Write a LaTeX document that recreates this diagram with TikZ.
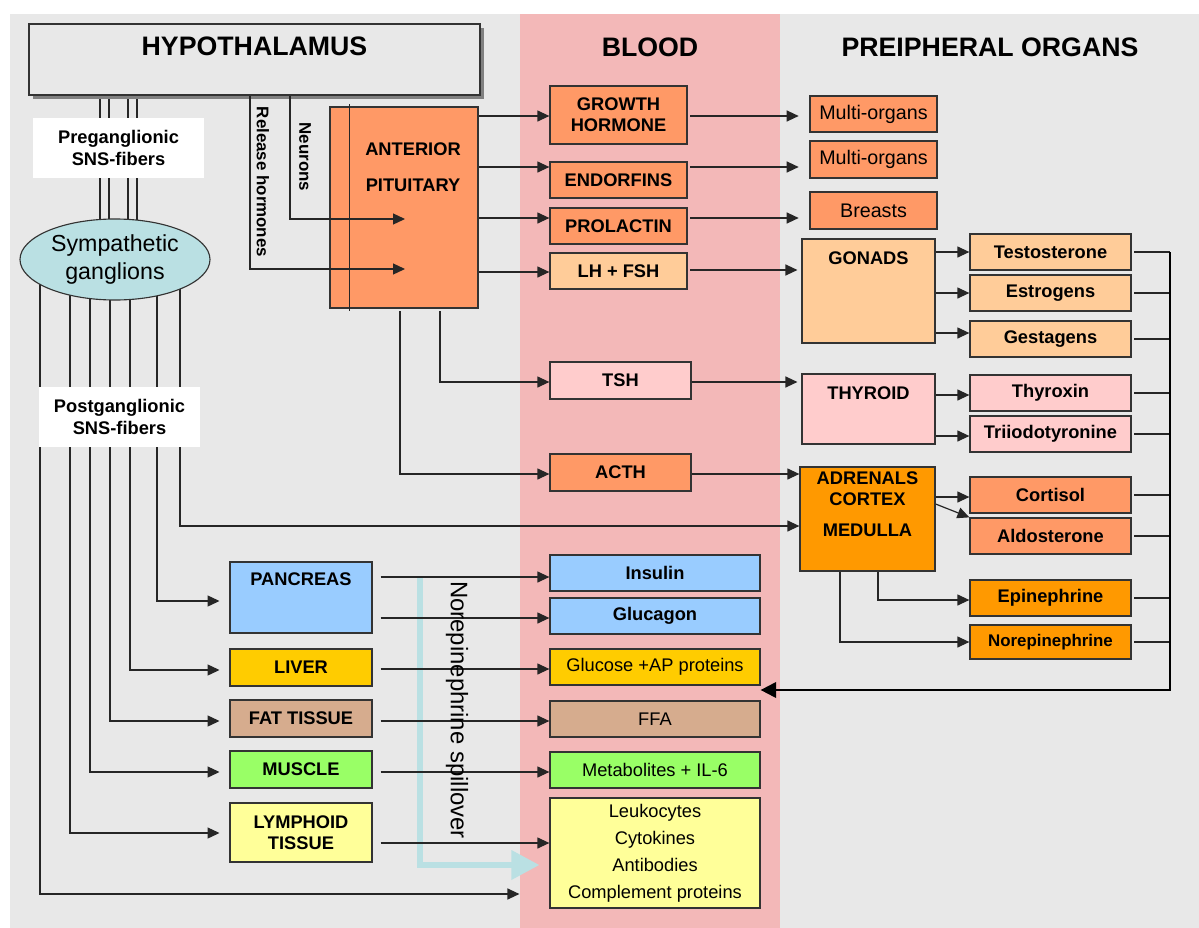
\documentclass[tikz,border=0pt]{standalone}
\usepackage{fontspec}
\setmainfont{Liberation Sans}
\usepackage{xcolor}
\usetikzlibrary{arrows.meta, calc, shapes.geometric, shadows}

\definecolor{bggray}{HTML}{E8E8E8}
\definecolor{bloodpink}{HTML}{F3B8B8}
\definecolor{salmon}{HTML}{FF9966}
\definecolor{peach}{HTML}{FFCC99}
\definecolor{rosy}{HTML}{FFCCCC}
\definecolor{amber}{HTML}{FF9900}
\definecolor{pancblue}{HTML}{99CCFF}
\definecolor{livergold}{HTML}{FFCC00}
\definecolor{fatbrown}{HTML}{D6AC8E}
\definecolor{muscgreen}{HTML}{99FF66}
\definecolor{paleyellow}{HTML}{FFFF99}
\definecolor{ganglcyan}{HTML}{BAE0E3}

\pgfdeclarelayer{bg}
\pgfdeclarelayer{wires}
\pgfsetlayers{bg,wires,main}

\begin{document}
\begin{tikzpicture}[x=0.025cm, y=-0.025cm,
  wh/.style 2 args={minimum width={#1*0.025cm}, minimum height={#2*0.025cm}},
  box/.style={rectangle, draw=black!80, line width=0.9pt, inner sep=0pt, align=center,
    font=\bfseries\fontsize{13}{15}\selectfont},
  plain/.style={font=\fontsize{13}{19.2}\selectfont},
  organ/.style={font=\fontsize{14}{16}\selectfont},
  toptxt/.style={anchor=north, inner sep=0pt, align=center, font=\bfseries\fontsize{13}{15}\selectfont},
  fiber/.style={rectangle, fill=white, inner sep=0pt, align=center, font=\bfseries\fontsize{13}{15}\selectfont},
  head/.style={font=\bfseries\fontsize{19}{23}\selectfont},
  vlab/.style={rotate=-90, inner sep=0pt, font=\bfseries\fontsize{12}{14}\selectfont},
  wire/.style={line width=0.85pt, draw=black!85},
  arr/.style={wire, -{Triangle[length=8.5pt, width=7.8pt]}},
  feedback/.style={line width=1.6pt, -{Triangle[length=11pt, width=11pt]}},
  spill/.style={line width=4.4pt, draw=ganglcyan, -{Triangle[length=20pt, width=20pt]}}
]
  \useasboundingbox (0,0) rectangle (1199,928);
  \begin{pgfonlayer}{bg}
    \fill[bggray] (10,14) rectangle (1199,928);
    \fill[bloodpink] (520,14) rectangle (780,928);
  \end{pgfonlayer}

  \node[head] (blood) at (650,47) {BLOOD};
  \node[head] (periph) at (990,47) {PREIPHERAL ORGANS};

  % Hypothalamus and ganglia
  \node[box, fill=bggray, wh={451}{71},
    drop shadow={opacity=1, fill=black!50, shadow xshift=0.1cm, shadow yshift=-0.1cm},
    label={[toptxt, font=\bfseries\fontsize{19}{23}\selectfont, yshift=-13*0.025cm]north:HYPOTHALAMUS}]
    (hyp) at (254.5,59.5) {};
  \node[ellipse, draw=black!80, line width=0.8pt, fill=ganglcyan, wh={190}{81}, inner sep=0pt,
    align=center, font=\fontsize{16.5}{20}\selectfont] (ggl) at (115,259.5) {Sympathetic\\ganglions};
  \node[fiber, wh={171}{60}] (pre) at (118.5,148) {Preganglionic\\SNS-fibers};
  \node[fiber, wh={161}{60}] (post) at (119.5,417) {Postganglionic\\SNS-fibers};

  \node[box, fill=salmon, wh={148}{201},
    label={[toptxt, font=\bfseries\fontsize{13}{26}\selectfont, xshift=9*0.025cm, yshift=-36*0.025cm]north:ANTERIOR\\PITUITARY}]
    (ap) at (404,207.5) {};
  \node[vlab] (relh) at (263,182) {Release hormones};
  \node[vlab] (neur) at (305,157) {Neurons};

  % Blood
  \node[box, fill=salmon, wh={137}{58}] (gh) at (618.5,115) {GROWTH\\HORMONE};
  \node[box, fill=salmon, wh={137}{36}] (endo) at (618.5,180) {ENDORFINS};
  \node[box, fill=salmon, wh={137}{36}] (prl) at (618.5,226) {PROLACTIN};
  \node[box, fill=peach, wh={137}{36}] (lhfsh) at (618.5,271) {LH + FSH};
  \node[box, fill=rosy, wh={141}{37}] (tsh) at (620.5,380.5) {TSH};
  \node[box, fill=salmon, wh={141}{37}] (acth) at (620.5,472.5) {ACTH};
  \node[box, fill=pancblue, wh={210}{36}] (ins) at (655,573) {Insulin};
  \node[box, fill=pancblue, wh={210}{36}] (glc) at (655,616) {Glucagon};
  \node[box, plain, fill=livergold, wh={210}{36}] (gap) at (655,667) {Glucose +AP proteins};
  \node[box, plain, fill=fatbrown, wh={210}{36}] (ffa) at (655,719) {FFA};
  \node[box, plain, fill=muscgreen, wh={210}{36}] (met) at (655,770) {Metabolites + IL-6};
  \node[box, plain, fill=paleyellow, wh={210}{110}] (leuk) at (655,853)
    {Leukocytes\\Cytokines\\Antibodies\\Complement proteins};

  % Peripheral organs
  \node[box, organ, fill=salmon, wh={127}{36}] (multia) at (873.5,114) {Multi-organs};
  \node[box, organ, fill=salmon, wh={127}{37}] (multib) at (873.5,159.5) {Multi-organs};
  \node[box, organ, fill=salmon, wh={127}{37}] (breasts) at (873.5,210.5) {Breasts};
  \node[box, fill=peach, wh={133}{104},
    label={[toptxt, yshift=-13*0.025cm]north:GONADS}] (gonads) at (868.5,291) {};
  \node[box, fill=rosy, wh={133}{70},
    label={[toptxt, yshift=-13*0.025cm]north:THYROID}] (thyroid) at (868.5,409) {};
  \node[box, fill=amber, wh={135}{104},
    label={[toptxt, yshift=-5*0.025cm]north:ADRENALS\\CORTEX\\[7pt]MEDULLA}] (adr) at (867.5,519) {};

  \node[box, fill=peach, wh={161}{36}] (testo) at (1050.5,252) {Testosterone};
  \node[box, fill=peach, wh={161}{36}] (estro) at (1050.5,293) {Estrogens};
  \node[box, fill=peach, wh={161}{36}] (gesta) at (1050.5,339) {Gestagens};
  \node[box, fill=rosy, wh={161}{36}] (thyrox) at (1050.5,393) {Thyroxin};
  \node[box, fill=rosy, wh={161}{36}] (triiodo) at (1050.5,434) {Triiodotyronine};
  \node[box, fill=salmon, wh={161}{36}] (cort) at (1050.5,495) {Cortisol};
  \node[box, fill=salmon, wh={161}{36}] (aldo) at (1050.5,536) {Aldosterone};
  \node[box, fill=amber, wh={161}{36}] (epi) at (1050.5,598) {Epinephrine};
  \node[box, fill=amber, wh={161}{34}, font=\bfseries\fontsize{12}{14}\selectfont] (norepi) at (1050.5,642) {Norepinephrine};

  % Organs under SNS control
  \node[box, fill=pancblue, wh={142}{71},
    label={[toptxt, yshift=-11*0.025cm]north:PANCREAS}] (panc) at (301,597.5) {};
  \node[box, fill=livergold, wh={142}{37}] (liver) at (301,667.5) {LIVER};
  \node[box, fill=fatbrown, wh={142}{37}] (fat) at (301,718.5) {FAT TISSUE};
  \node[box, fill=muscgreen, wh={142}{37}] (muscle) at (301,769.5) {MUSCLE};
  \node[box, fill=paleyellow, wh={142}{59}] (lymph) at (301,832.5) {LYMPHOID\\TISSUE};

  \node[rotate=-90, inner sep=0pt, font=\fontsize{17}{20}\selectfont] (spilltxt) at (457,710) {Norepinephrine spillover};

  \coordinate (spilltop) at (420,577);
  \coordinate (fb) at (1170,690);
  \coordinate (rhin) at (405,269);
  \coordinate (nrin) at (405,219);

  \begin{pgfonlayer}{wires}
    \draw[spill, shorten >=7pt] (spilltop) |- (leuk.west |- 0,865);
    % SNS fibers
    \foreach \x in {100,109,128,137}
      \draw[wire] (\x,0 |- hyp.south) -- (\x,0 |- ggl.center);
    \draw[arr] (180,0 |- ggl.center) |- (adr.west |- 0,526);
    \draw[arr, shorten >=7pt] (157,0 |- ggl.center) |- (panc.west |- 0,601);
    \draw[arr, shorten >=7pt] (130,0 |- ggl.center) |- (liver.west |- 0,670);
    \draw[arr, shorten >=7pt] (110,0 |- ggl.center) |- (fat.west |- 0,721);
    \draw[arr, shorten >=7pt] (90,0 |- ggl.center) |- (muscle.west |- 0,772);
    \draw[arr, shorten >=7pt] (70,0 |- ggl.center) |- (lymph.west |- 0,833);
    \draw[arr, shorten >=21.3pt] (40,0 |- ggl.center) |- (leuk.west |- 0,894);

    \draw[arr, shorten <=5.7pt] (panc.east |- 0,577) -- (ins.west |- 0,577);
    \draw[arr, shorten <=5.7pt] (panc.east |- 0,618) -- (glc.west |- 0,618);
    \draw[arr, shorten <=5.7pt] (liver.east |- 0,669) -- (gap.west |- 0,669);
    \draw[arr, shorten <=5.7pt] (fat.east |- 0,721) -- (ffa.west |- 0,721);
    \draw[arr, shorten <=5.7pt] (muscle.east |- 0,772) -- (met.west |- 0,772);
    \draw[arr, shorten <=5.7pt] (lymph.east |- 0,843) -- (leuk.west |- 0,843);

    % Pituitary axis
    \draw[arr] (ap.east |- 0,116) -- (gh.west |- 0,116);
    \draw[arr] (ap.east |- 0,167) -- (endo.west |- 0,167);
    \draw[arr] (ap.east |- 0,218) -- (prl.west |- 0,218);
    \draw[arr] (ap.east |- 0,272) -- (lhfsh.west |- 0,272);
    \draw[arr, shorten <=2pt] (440,0 |- ap.south) |- (tsh.west |- 0,382);
    \draw[arr, shorten <=2pt] (400,0 |- ap.south) |- (acth.west |- 0,474);

    \draw[arr, shorten <=2pt, shorten >=7.6pt] (gh.east |- 0,116) -- (multia.west |- 0,116);
    \draw[arr, shorten <=2pt, shorten >=7.6pt] (endo.east |- 0,167) -- (multib.west |- 0,167);
    \draw[arr, shorten <=2pt, shorten >=7.6pt] (prl.east |- 0,218) -- (breasts.west |- 0,218);
    \draw[arr, shorten <=2pt, shorten >=2.8pt] (lhfsh.east |- 0,270) -- (gonads.west |- 0,270);
    \draw[arr, shorten >=2.8pt] (tsh.east |- 0,382) -- (thyroid.west |- 0,382);
    \draw[arr] (acth.east |- 0,474) -- (adr.west |- 0,474);

    \draw[arr] (gonads.east |- testo.west) -- (testo.west);
    \draw[arr] (gonads.east |- estro.west) -- (estro.west);
    \draw[arr] (gonads.east |- 0,333) -- (gesta.west |- 0,333);
    \draw[arr] (thyroid.east |- 0,395) -- (thyrox.west |- 0,395);
    \draw[arr] (thyroid.east |- 0,436) -- (triiodo.west |- 0,436);
    \draw[arr] (adr.east |- 0,497) -- (cort.west |- 0,497);
    \draw[arr] ($(adr.east)+(0,-15)$) -- (aldo.north west);
    \draw[arr] (878,0 |- adr.south) |- (epi.west |- 0,600);
    \draw[arr] (840,0 |- adr.south) |- (norepi.west);

    % Feedback to blood
    \foreach \h in {testo, estro, gesta, thyrox, triiodo, cort, aldo, epi, norepi}
      \draw[wire, line width=1pt, shorten <=2pt] (\h.east) -- (\h.east -| fb);
    \draw[feedback] (fb |- testo.east) -- (fb) -- (gap.east |- fb);
  \end{pgfonlayer}

  \draw[wire] ($(ap.north west)+(20,-2)$) -- ($(ap.south west)+(20,2)$);
  \draw[arr] (250,0 |- hyp.south) |- (rhin);
  \draw[arr] (290,0 |- hyp.south) |- (nrin);
\end{tikzpicture}
\end{document}
